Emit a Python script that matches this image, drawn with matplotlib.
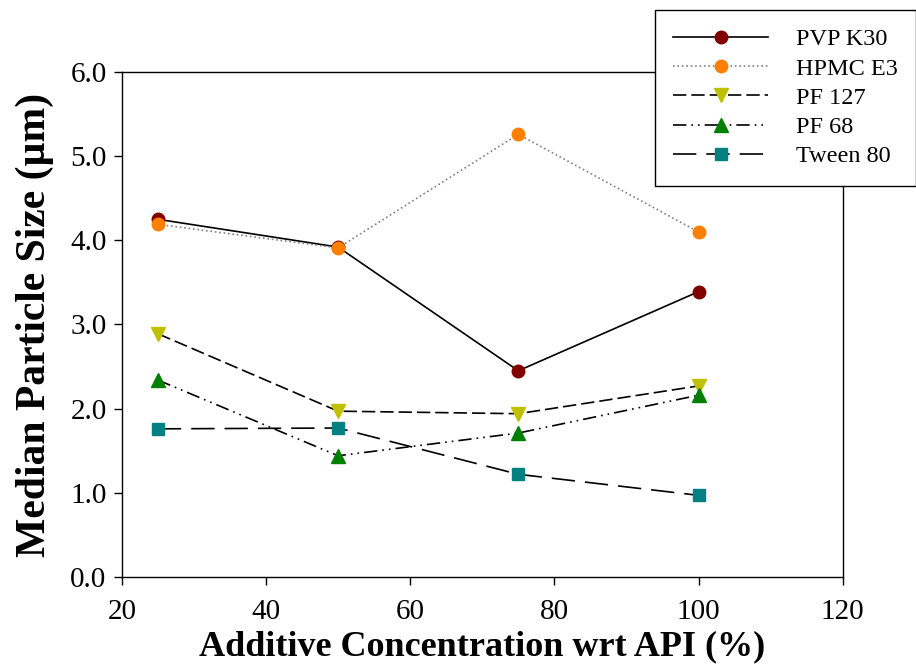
import numpy as np
import matplotlib.pyplot as plt

plt.rcParams['font.family'] = ['Liberation Serif', 'DejaVu Serif']

conc = [25, 50, 75, 100]
pvp_k30 = [4.25, 3.92, 2.45, 3.39]
hpmc_e3 = [4.19, 3.91, 5.26, 4.10]
pf_127 = [2.89, 1.97, 1.94, 2.27]
pf_68 = [2.34, 1.44, 1.71, 2.16]
tween_80 = [1.76, 1.77, 1.22, 0.97]

fig = plt.figure(figsize=(9.16, 6.67), dpi=100)
ax = fig.add_axes([0.133, 0.135, 0.787, 0.757])

ms = 9
ax.plot(conc, pvp_k30, '-', color='black', lw=1.2, marker='o', ms=ms,
        mfc='#800000', mec='#800000', label='PVP K30')
ax.plot(conc, hpmc_e3, ':', color='#808080', lw=1.2, marker='o', ms=ms,
        mfc='#ff8000', mec='#ff8000', label='HPMC E3')
ax.plot(conc, pf_127, color='black', lw=1.2, dashes=(8, 3), marker='v', ms=ms + 1,
        mfc='#c0c000', mec='#c0c000', label='PF 127')
ax.plot(conc, pf_68, color='black', lw=1.2, dashes=(8, 3, 1, 3, 1, 3), marker='^', ms=ms + 1,
        mfc='#008000', mec='#008000', label='PF 68')
ax.plot(conc, tween_80, color='black', lw=1.2, dashes=(14, 6), marker='s', ms=ms,
        mfc='#008080', mec='#008080', label='Tween 80')

ax.set_xlim(20, 120)
ax.set_ylim(0, 6)
ax.set_xticks([20, 40, 60, 80, 100, 120])
ax.set_yticks(np.arange(0, 6.01, 1.0))
ax.set_yticklabels(['%.1f' % v for v in np.arange(0, 6.01, 1.0)])
ax.tick_params(direction='out', length=6, width=1, labelsize=21, top=False, right=False)
ax.tick_params(axis='x', pad=10)
ax.tick_params(axis='y', pad=5)
for s in ax.spines.values():
    s.set_linewidth(1.0)

ax.set_xlabel('Additive Concentration wrt API (%)', fontsize=26, fontweight='bold', labelpad=4)
ax.set_ylabel('Median Particle Size (\u00b5m)', fontsize=30, fontweight='bold', labelpad=12)

# legend box sits partly outside the axes, top right of the figure
leg = ax.legend(loc='upper right', bbox_to_anchor=(1.0 / 0.787 - 0.133 / 0.787, (667 - 10) / 667 / 0.757 - 0.135 / 0.757),
                fontsize=17.5, handlelength=3.9, labelspacing=0.3, borderpad=0.75, handletextpad=1.15,
                fancybox=False, edgecolor='black', framealpha=1, borderaxespad=0)
leg.get_frame().set_linewidth(1.0)

fig.savefig('out.png', dpi=100)
